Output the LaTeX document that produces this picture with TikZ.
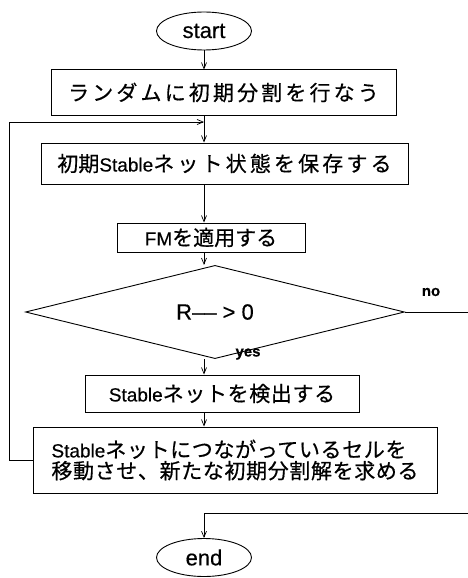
\documentclass[tikz,border=0pt]{standalone}
\usepackage{fontspec}
\setmainfont[FakeBold=0.4]{Liberation Sans}
\newfontfamily\jpn[LetterSpace=3,FakeBold=0.5]{Noto Sans CJK JP}
\newfontfamily\jpw[LetterSpace=15,FakeBold=0.5]{Noto Sans CJK JP}
\newfontfamily\jpz[FakeBold=0.5]{Noto Sans CJK JP}
\newcommand\Jn[1]{{\fontsize{21}{19}\jpn #1}}
\newcommand\Jw[1]{{\fontsize{21}{19}\jpw #1}}
\newcommand\Jz[1]{{\fontsize{21}{19}\jpz #1}}
\usetikzlibrary{shapes.geometric,arrows.meta}
\tikzset{
  box/.style={draw, line width=1pt, inner sep=0pt, font=\fontsize{19}{19}\selectfont},
  term/.style={ellipse, draw, line width=0.9pt, minimum width=95pt, minimum height=38pt, inner sep=0pt, font=\fontsize{22}{24}\selectfont},
  cond/.style={diamond, draw, line width=0.9pt, minimum width=379pt, minimum height=64pt, inner sep=0pt, font=\fontsize{22}{24}\selectfont},
  arr/.style={-{Straight Barb[length=6pt,width=5pt]}, line width=0.7pt},
  ln/.style={line width=0.7pt},
  lab/.style={font=\fontsize{15}{17}\selectfont\bfseries}
}
\begin{document}
\begin{tikzpicture}[x=1pt,y=-1pt]
\useasboundingbox (0,0) rectangle (468,578);
\node[term] (start) at (204,31) {start};
\node[box, minimum width=345pt, minimum height=45pt] (b1) at (223.5,92.5) {\Jw{ランダムに初期分割を行なう}};
\node[box, minimum width=367pt, minimum height=41pt] (b2) at (224.5,163.5) {\Jz{初期}Stable\Jw{ネット状態を保存する}};
\node[box, minimum width=188pt, minimum height=29pt] (b3) at (211,237.5) {FM\Jz{を適用する}};
\node[cond] (dia) at (215,312) {R\textendash\textendash{} > 0};
\node[box, minimum width=274pt, minimum height=37pt] (b4) at (222,393.5) {Stable\Jn{ネットを検出する}};
\node[box, minimum width=404pt, minimum height=66pt, align=left] (b5) at (235,460) {Stable\Jn{ネットにつながっているセルを}\\[1pt]\Jn{移動させ、新たな初期分割解を求める}};
\node[term] (end) at (204,557.5) {end};
\node[lab] (no) at (431,292) {no};
\node[lab] (yes) at (248,354) {yes};
\coordinate (loopin) at (204,122);
\coordinate (noexit) at (468,312);
\coordinate (retR) at (468,513);
\coordinate (retL) at (204,513);
\draw[arr] (start.south) -- (start.south |- b1.north);
\draw[arr] (loopin |- b1.south) -- (loopin |- b2.north);
\draw[arr] (b5.west) -- ++(-23,0) |- (loopin);
\draw[arr] (loopin |- b2.south) -- (loopin |- b3.north);
\draw[arr] (loopin |- b3.south) -- (loopin |- dia.north);
\draw[arr] (loopin |- dia.south) -- (loopin |- b4.north);
\draw[arr] (loopin |- b4.south) -- (loopin |- b5.north);
\draw[ln] (dia.east) -- (noexit);
\draw[arr] (retR) -- (retL) -- (end.north);
\end{tikzpicture}
\end{document}
